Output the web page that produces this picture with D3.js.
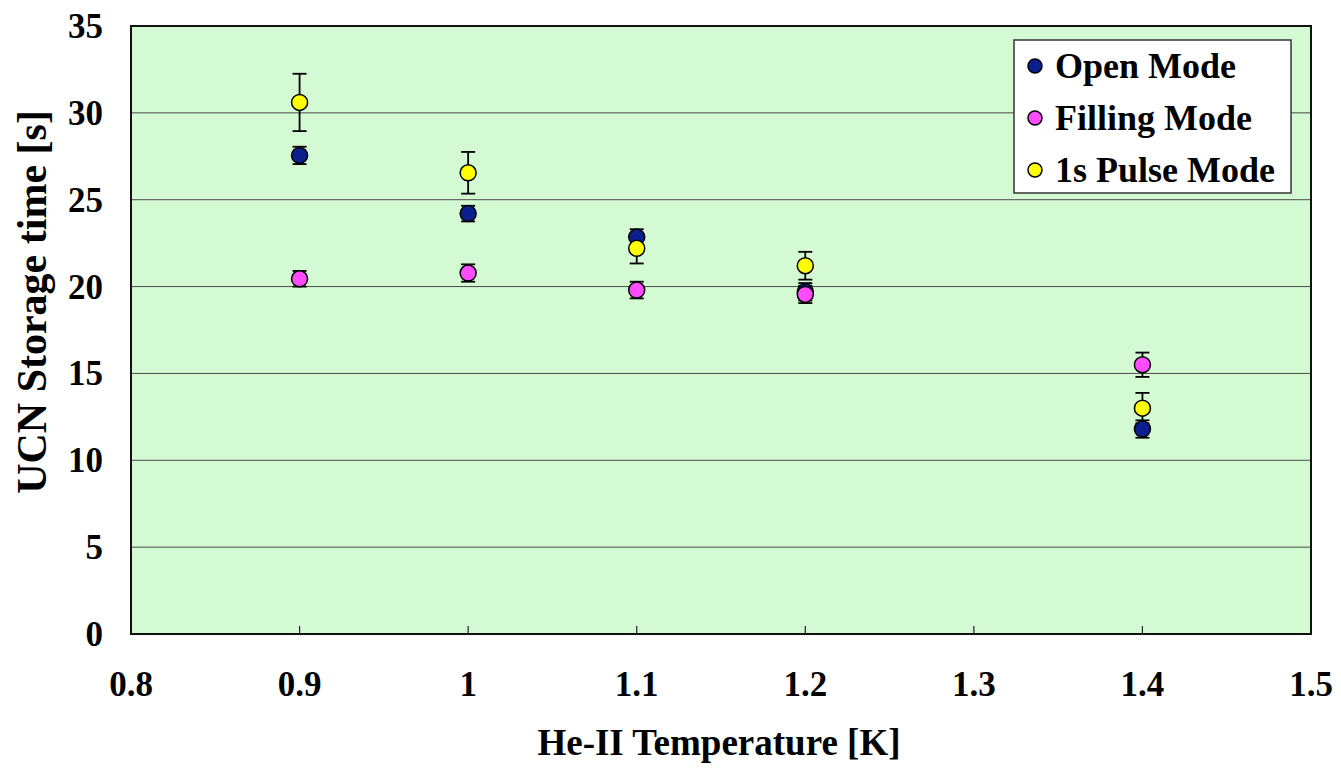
<!DOCTYPE html>
<html>
<head>
	<script type="text/javascript" src="https://cdn.jsdelivr.net/npm/d3@7/dist/d3.min.js"></script>
	<style type="text/css">
		body { margin: 0; background: #fff; }
		text { font-family: "Liberation Serif", "Times New Roman", serif; font-weight: bold; fill: #000; }
	</style>
</head>
<body>
<script type="text/javascript">

// He-II temperature [K]
var temps = [0.9, 1.0, 1.1, 1.2, 1.4];

// UCN storage time [s] and errors
var openMode = [27.55, 24.2, 22.85, 19.7, 11.8],
	openErr = [0.5, 0.45, 0.45, 0.5, 0.5];
var fillingMode = [20.45, 20.78, 19.8, 19.55, 15.5],
	fillingErr = [0.45, 0.5, 0.48, 0.5, 0.7];
var pulseMode = [30.6, 26.55, 22.2, 21.2, 13.0],
	pulseErr = [1.65, 1.2, 0.87, 0.8, 0.88];

var seriesNames = ["Open Mode", "Filling Mode", "1s Pulse Mode"];
var seriesColors = ["#0c1f8e", "#ff4cff", "#ffff00"];

var xTicks = [0.8, 0.9, 1.0, 1.1, 1.2, 1.3, 1.4, 1.5];
var yTicks = [0, 5, 10, 15, 20, 25, 30, 35];

var width = 1341,
	height = 770,
	plotLeft = 131, plotRight = 1311, plotTop = 26, plotBottom = 634;

var series = [
	{ name: seriesNames[0], color: seriesColors[0], vals: openMode, errs: openErr },
	{ name: seriesNames[1], color: seriesColors[1], vals: fillingMode, errs: fillingErr },
	{ name: seriesNames[2], color: seriesColors[2], vals: pulseMode, errs: pulseErr }
];

var x = d3.scaleLinear().domain([0.8, 1.5]).range([plotLeft, plotRight]);
var y = d3.scaleLinear().domain([0, 35]).range([plotBottom, plotTop]);

var svg = d3.select("body").append("svg")
	.attr("width", width)
	.attr("height", height);

// plot area
svg.append("rect")
	.attr("x", plotLeft).attr("y", plotTop)
	.attr("width", plotRight - plotLeft).attr("height", plotBottom - plotTop)
	.attr("fill", "#d3fad3");

// gridlines
svg.append("g").selectAll("line")
	.data(yTicks.filter(function(t) { return t > 0 && t < 35; }))
  .enter().append("line")
	.attr("x1", plotLeft).attr("x2", plotRight)
	.attr("y1", function(d) { return y(d); })
	.attr("y2", function(d) { return y(d); })
	.attr("stroke", "#4a4a4a")
	.attr("stroke-width", 1);

// x ticks (inside)
svg.append("g").selectAll("line")
	.data(xTicks.slice(1, -1))
  .enter().append("line")
	.attr("x1", function(d) { return x(d); })
	.attr("x2", function(d) { return x(d); })
	.attr("y1", plotBottom).attr("y2", plotBottom - 8)
	.attr("stroke", "#222")
	.attr("stroke-width", 1.2);

// border
svg.append("rect")
	.attr("x", plotLeft).attr("y", plotTop)
	.attr("width", plotRight - plotLeft).attr("height", plotBottom - plotTop)
	.attr("fill", "none")
	.attr("stroke", "#111")
	.attr("stroke-width", 2);

// tick labels
svg.append("g").selectAll("text")
	.data(yTicks)
  .enter().append("text")
	.attr("x", 103)
	.attr("y", function(d) { return y(d) + 12; })
	.attr("text-anchor", "end")
	.style("font-size", "35px")
	.text(function(d) { return d; });

svg.append("g").selectAll("text")
	.data(xTicks)
  .enter().append("text")
	.attr("x", function(d) { return x(d); })
	.attr("y", 696)
	.attr("text-anchor", "middle")
	.style("font-size", "35px")
	.text(function(d) { return d3.format("~g")(d); });

// axis titles
svg.append("text")
	.attr("x", 719).attr("y", 755)
	.attr("text-anchor", "middle")
	.style("font-size", "37px")
	.text("He-II Temperature [K]");

svg.append("text")
	.attr("transform", "translate(46," + 302 + ") rotate(-90)")
	.attr("text-anchor", "middle")
	.style("font-size", "42px")
	.text("UCN Storage time [s]");

// error bars first, then markers
var pts = [];
series.forEach(function(s) {
	temps.forEach(function(t, i) {
		pts.push({ t: t, v: s.vals[i], e: s.errs[i], color: s.color });
	});
});

var eb = svg.append("g").selectAll("g")
	.data(pts)
  .enter().append("g")
	.attr("stroke", "#000")
	.attr("stroke-width", 1.8);
eb.append("line")
	.attr("x1", function(d) { return x(d.t); })
	.attr("x2", function(d) { return x(d.t); })
	.attr("y1", function(d) { return y(d.v + d.e); })
	.attr("y2", function(d) { return y(d.v - d.e); });
eb.append("line")
	.attr("x1", function(d) { return x(d.t) - 7; })
	.attr("x2", function(d) { return x(d.t) + 7; })
	.attr("y1", function(d) { return y(d.v + d.e); })
	.attr("y2", function(d) { return y(d.v + d.e); });
eb.append("line")
	.attr("x1", function(d) { return x(d.t) - 7; })
	.attr("x2", function(d) { return x(d.t) + 7; })
	.attr("y1", function(d) { return y(d.v - d.e); })
	.attr("y2", function(d) { return y(d.v - d.e); });

svg.append("g").selectAll("circle")
	.data(pts)
  .enter().append("circle")
	.attr("cx", function(d) { return x(d.t); })
	.attr("cy", function(d) { return y(d.v); })
	.attr("r", 8)
	.attr("fill", function(d) { return d.color; })
	.attr("stroke", "#000")
	.attr("stroke-width", 1.5);

// legend
var legend = svg.append("g");
legend.append("rect")
	.attr("x", 1014).attr("y", 40)
	.attr("width", 277).attr("height", 153)
	.attr("fill", "#fff")
	.attr("stroke", "#333")
	.attr("stroke-width", 1.5);

var item = legend.selectAll("g.item")
	.data(series)
  .enter().append("g")
	.attr("class", "item")
	.attr("transform", function(d, i) { return "translate(1035," + (66 + i * 52) + ")"; });
item.append("circle")
	.attr("r", 7)
	.attr("fill", function(d) { return d.color; })
	.attr("stroke", "#000")
	.attr("stroke-width", 1.5);
item.append("text")
	.attr("x", 20).attr("y", 12)
	.style("font-size", "36px")
	.text(function(d) { return d.name; });

</script>
</body>
</html>
